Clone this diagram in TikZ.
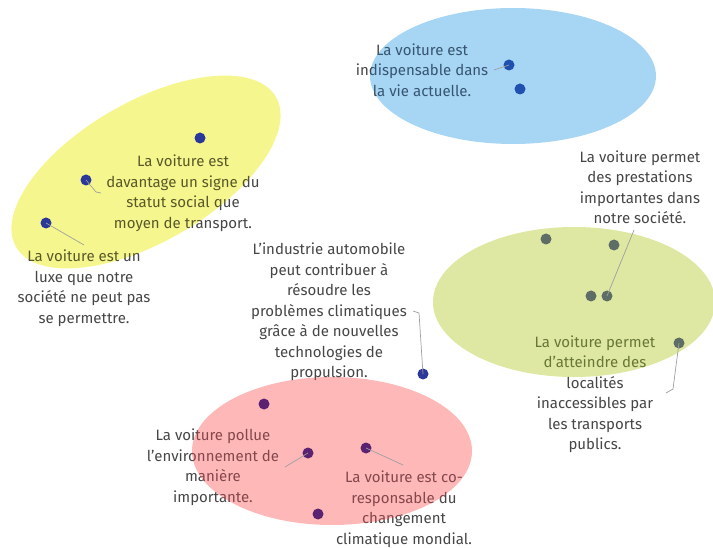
\documentclass[tikz,border=0pt]{standalone}
\usepackage{fontspec}
\setmainfont{Fira Sans}
\usepackage{tikz}
\usetikzlibrary{positioning}
\usepackage{xcolor}
\definecolor{yellowarea}{RGB}{246,246,142}
\definecolor{bluearea}{RGB}{166,214,244}
\definecolor{greenarea}{RGB}{222,232,162}
\definecolor{redarea}{RGB}{255,184,184}
\definecolor{textgrey}{RGB}{70,70,70}
\definecolor{yellowtext}{RGB}{88,88,42}
\definecolor{bluetext}{RGB}{55,85,112}
\definecolor{greentext}{RGB}{104,118,56}
\definecolor{redtext}{RGB}{132,72,76}
\definecolor{navydot}{RGB}{42,56,153}
\definecolor{bluedot}{RGB}{32,80,176}
\definecolor{greydot}{RGB}{94,110,102}
\definecolor{purpledot}{RGB}{90,34,112}

% all statements, in one text colour
\newcommand{\opinions}[1]{%
\node [opinion, text=#1] (statut) at (183,193) {La voiture est\\davantage un signe du\\statut social que\\moyen de transport.};
\node [opinion, text=#1] (luxe) at (84,288) {La voiture est un\\luxe que notre\\société ne peut pas\\se permettre.};
\node [opinion, text=#1] (indisp) at (422,70) {La voiture est\\indispensable dans\\la vie actuelle.};
\node [opinion, text=#1] (prestations) at (640,187) {La voiture permet\\des prestations\\importantes dans\\notre société.};
\node [opinion, text=#1] (localites) at (595,394) {La voiture permet\\d’atteindre des\\localités\\inaccessibles par\\les transports\\publics.};
\node [opinion, text=#1] (industrie) at (329,312) {L’industrie automobile\\peut contribuer à\\résoudre les\\problèmes climatiques\\grâce à de nouvelles\\technologies de\\propulsion.};
\node [opinion, text=#1] (pollue) at (213,467) {La voiture pollue\\l’environnement de\\manière\\importante.};
\node [opinion, text=#1] (coresp) at (404,509) {La voiture est co-\\responsable du\\changement\\climatique mondial.};
}

\begin{document}
\begin{tikzpicture}[x=1pt,y=-1pt]
\tikzstyle{opinion} = [align=center, inner sep=0pt,
font=\fontsize{15}{20.5}\selectfont]
\tikzstyle{bullet} = [circle, inner sep=0pt, minimum size=11pt]
\tikzstyle{leader} = [draw=gray!75, line width=0.7pt]
\useasboundingbox (0,0) rectangle (713,548);
% areas
\fill[yellowarea, rotate around={30:(146,172)}] (146,172) ellipse [x radius=150, y radius=70];
\fill[bluearea] (513,76) ellipse [x radius=143, y radius=68];
\fill[greenarea] (574,302) ellipse [x radius=141, y radius=75];
\fill[redarea] (332,451) ellipse [x radius=140, y radius=74];
% texts: grey outside the areas, tinted inside
\begin{scope}[even odd rule]
\clip (-10,-10) rectangle (723,558)
  {[rotate around={30:(146,172)}] (146,172) ellipse [x radius=150, y radius=70]}
  (513,76) ellipse [x radius=143, y radius=68]
  (574,302) ellipse [x radius=141, y radius=75]
  (332,451) ellipse [x radius=140, y radius=74];
\opinions{textgrey}
\end{scope}
\begin{scope}
\clip[rotate around={30:(146,172)}] (146,172) ellipse [x radius=150, y radius=70];
\opinions{yellowtext}
\end{scope}
\begin{scope}
\clip (513,76) ellipse [x radius=143, y radius=68];
\opinions{bluetext}
\end{scope}
\begin{scope}
\clip (574,302) ellipse [x radius=141, y radius=75];
\opinions{greentext}
\end{scope}
\begin{scope}
\clip (332,451) ellipse [x radius=140, y radius=74];
\opinions{redtext}
\end{scope}
% dots
\node [bullet, fill=navydot] (y1) at (200,138) {};
\node [bullet, fill=navydot] (y2) at (86,180) {};
\node [bullet, fill=navydot] (y3) at (46,223) {};
\node [bullet, fill=bluedot] (b1) at (509,65) {};
\node [bullet, fill=bluedot] (b2) at (520,89) {};
\node [bullet, fill=greydot] (g1) at (546,239) {};
\node [bullet, fill=greydot] (g2) at (614,245) {};
\node [bullet, fill=greydot] (g3) at (591,296) {};
\node [bullet, fill=greydot] (g4) at (607,296) {};
\node [bullet, fill=greydot] (g5) at (679,343) {};
\node [bullet, fill=navydot] (i1) at (423,374) {};
\node [bullet, fill=purpledot] (r1) at (264,404) {};
\node [bullet, fill=purpledot] (r2) at (308,453) {};
\node [bullet, fill=purpledot] (r3) at (366,448) {};
\node [bullet, fill=purpledot] (r4) at (318,514) {};
% leaders
\coordinate (statutend) at (101,193);
\coordinate (luxeend) at (84,245);
\coordinate (indispend) at (494,70);
\coordinate (prestend) at (634,230);
\coordinate (localend) at (666,393);
\coordinate (industend) at (413,311);
\coordinate (polluend) at (285,467);
\coordinate (corespend) at (403,465);
\draw [leader] (y2.center) -- (96,192) -- (statutend);
\draw [leader] (y3.center) -- (luxeend);
\draw [leader] (b1.center) -- (indispend);
\draw [leader] (g4.center) -- (prestend);
\draw [leader] (g5.center) -- (673,389) -- (localend);
\draw [leader] (i1.center) -- (419,313) -- (industend);
\draw [leader] (r2.center) -- (polluend);
\draw [leader] (r3.center) -- (corespend);
\end{tikzpicture}
\end{document}
